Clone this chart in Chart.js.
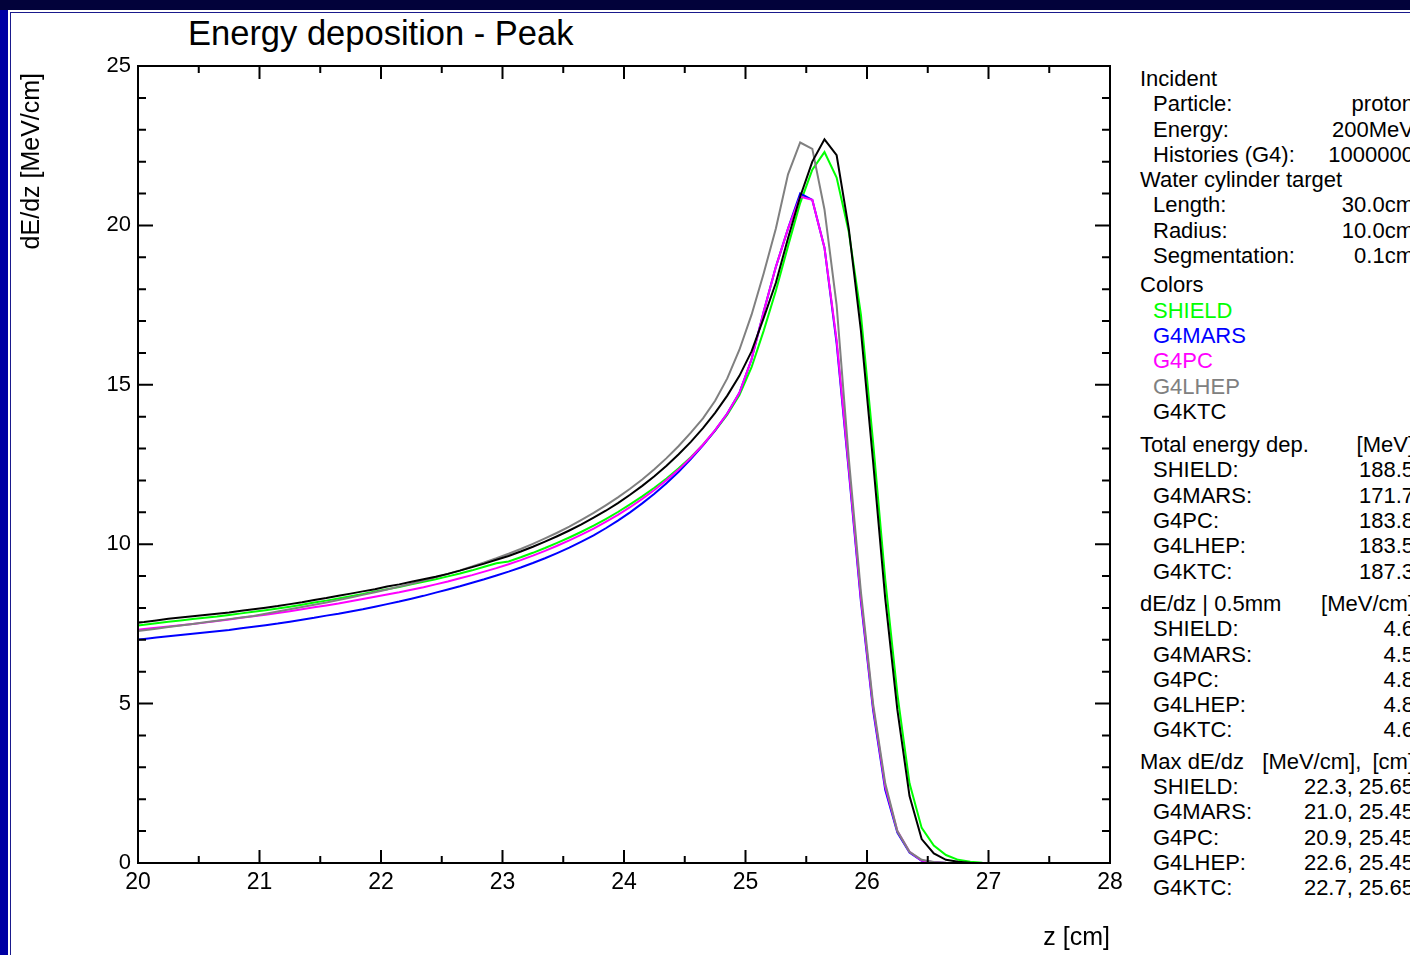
<!DOCTYPE html>
<html>
<head>
<meta charset="utf-8">
<script src="https://cdn.jsdelivr.net/npm/chart.js@4"></script>
<style>
  html, body { margin: 0; padding: 0; }
  body { width: 1410px; height: 955px; overflow: hidden; background: #02023a; position: relative;
         font-family: 'Liberation Sans', Arial, sans-serif; }
  #leftStrip { position: absolute; left: 0; top: 10px; width: 8px; height: 945px; background: #0000a4; }
  #outer { position: absolute; left: 8px; top: 10px; width: 1402px; height: 945px; background: #fff; }
  #inner { position: absolute; left: 10px; top: 12px; width: 1400px; height: 943px; background: #fff;
           border-left: 1px solid #1a1a8c; border-top: 1px solid #1a1a8c; box-sizing: border-box; }
  #wrap { position: absolute; left: 0; top: 0; width: 1130px; height: 955px; }
  #title { position: absolute; left: 188px; top: 14px; font-size: 34.5px; color: #000; white-space: nowrap; }
  #info { position: absolute; left: 1140px; top: 66px; width: 274px; font-size: 22px; color: #000; }
  #info .row { position: relative; height: 25.3px; line-height: 25.3px; white-space: pre; }
  #info .row .v { position: absolute; right: 0; top: 0; }
  #info .row.sub { padding-left: 13px; }
</style>
</head>
<body>
<div id="leftStrip"></div>
<div id="outer"></div>
<div id="inner"></div>
<div id="title">Energy deposition - Peak</div>
<div id="wrap"><canvas id="chartPeak"></canvas></div>
<div id="info"></div>
<script>
// bin centres along z [cm]
const zBins = [
  19.95,
  20.05, 20.15, 20.25, 20.35, 20.45, 20.55, 20.65, 20.75, 20.85, 20.95,
  21.05, 21.15, 21.25, 21.35, 21.45, 21.55, 21.65, 21.75, 21.85, 21.95,
  22.05, 22.15, 22.25, 22.35, 22.45, 22.55, 22.65, 22.75, 22.85, 22.95,
  23.05, 23.15, 23.25, 23.35, 23.45, 23.55, 23.65, 23.75, 23.85, 23.95,
  24.05, 24.15, 24.25, 24.35, 24.45, 24.55, 24.65, 24.75, 24.85, 24.95,
  25.05, 25.15, 25.25, 25.35, 25.45, 25.55, 25.65, 25.75, 25.85, 25.95,
  26.05, 26.15, 26.25, 26.35, 26.45, 26.55, 26.65, 26.75, 26.85, 26.95,
  27.05, 27.15, 27.25, 27.35, 27.45, 27.55, 27.65, 27.75, 27.85, 27.95
];

// dE/dz [MeV/cm]
const shield = [
  7.43,
  7.47, 7.52, 7.57, 7.61, 7.65, 7.69, 7.73, 7.78, 7.83, 7.88,
  7.93, 7.98, 8.04, 8.10, 8.17, 8.23, 8.30, 8.37, 8.44, 8.52,
  8.59, 8.66, 8.74, 8.82, 8.90, 8.99, 9.08, 9.18, 9.29, 9.40,
  9.46, 9.59, 9.73, 9.88, 10.04, 10.21, 10.39, 10.58, 10.79, 11.01,
  11.25, 11.50, 11.77, 12.06, 12.38, 12.73, 13.12, 13.56, 14.06, 14.68,
  15.55, 16.70, 17.95, 19.35, 20.70, 21.75, 22.30, 21.50, 19.80, 17.20,
  13.20, 8.90, 5.30, 2.50, 1.10, 0.55, 0.25, 0.10, 0.04, 0.01,
  0, 0, 0, 0, 0, 0, 0, 0, 0, 0
];
const g4mars = [
  6.99,
  7.03, 7.07, 7.11, 7.15, 7.19, 7.23, 7.27, 7.31, 7.36, 7.41,
  7.46, 7.51, 7.57, 7.63, 7.69, 7.76, 7.82, 7.89, 7.96, 8.04,
  8.12, 8.20, 8.29, 8.38, 8.48, 8.58, 8.68, 8.79, 8.90, 9.02,
  9.14, 9.27, 9.41, 9.56, 9.72, 9.89, 10.08, 10.28, 10.50, 10.74,
  11.00, 11.28, 11.58, 11.91, 12.27, 12.67, 13.10, 13.57, 14.10, 14.75,
  15.80, 17.30, 18.70, 19.90, 21.00, 20.80, 19.30, 16.30, 12.30, 8.20,
  4.80, 2.30, 0.95, 0.33, 0.07, 0.02, 0, 0, 0, 0,
  0, 0, 0, 0, 0, 0, 0, 0, 0, 0
];
const g4pc = [
  7.30,
  7.34, 7.38, 7.42, 7.46, 7.50, 7.54, 7.59, 7.64, 7.69, 7.74,
  7.79, 7.84, 7.90, 7.96, 8.02, 8.08, 8.14, 8.21, 8.28, 8.35,
  8.42, 8.49, 8.57, 8.65, 8.74, 8.83, 8.93, 9.03, 9.14, 9.25,
  9.37, 9.50, 9.64, 9.79, 9.95, 10.12, 10.30, 10.49, 10.70, 10.92,
  11.16, 11.42, 11.70, 12.01, 12.34, 12.71, 13.12, 13.58, 14.10, 14.75,
  15.80, 17.30, 18.70, 19.90, 20.90, 20.80, 19.30, 16.40, 12.40, 8.30,
  4.90, 2.40, 1.00, 0.35, 0.08, 0.02, 0, 0, 0, 0,
  0, 0, 0, 0, 0, 0, 0, 0, 0, 0
];
const g4lhep = [
  7.25,
  7.30, 7.35, 7.40, 7.45, 7.50, 7.55, 7.60, 7.65, 7.70, 7.75,
  7.82, 7.89, 7.96, 8.03, 8.10, 8.17, 8.25, 8.33, 8.41, 8.49,
  8.58, 8.67, 8.76, 8.86, 8.96, 9.07, 9.18, 9.30, 9.43, 9.56,
  9.70, 9.85, 10.01, 10.18, 10.36, 10.55, 10.76, 10.98, 11.22, 11.47,
  11.74, 12.03, 12.35, 12.70, 13.08, 13.50, 13.95, 14.50, 15.20, 16.10,
  17.20, 18.50, 19.90, 21.60, 22.60, 22.40, 20.50, 17.50, 12.70, 8.50,
  5.00, 2.50, 1.00, 0.35, 0.10, 0.03, 0.01, 0, 0, 0,
  0, 0, 0, 0, 0, 0, 0, 0, 0, 0
];
const g4ktc = [
  7.52,
  7.56, 7.61, 7.66, 7.70, 7.74, 7.78, 7.82, 7.86, 7.91, 7.96,
  8.01, 8.06, 8.12, 8.18, 8.25, 8.31, 8.38, 8.45, 8.52, 8.59,
  8.67, 8.74, 8.82, 8.90, 8.98, 9.07, 9.17, 9.28, 9.39, 9.51,
  9.63, 9.77, 9.92, 10.08, 10.25, 10.43, 10.62, 10.83, 11.05, 11.29,
  11.55, 11.83, 12.13, 12.46, 12.82, 13.21, 13.64, 14.12, 14.66, 15.28,
  16.05, 17.10, 18.20, 19.60, 20.90, 22.00, 22.70, 22.20, 19.90, 16.70,
  12.60, 8.30, 4.80, 2.10, 0.75, 0.30, 0.10, 0.04, 0.01, 0,
  0, 0, 0, 0, 0, 0, 0, 0, 0, 0
];

const seriesNames = ['SHIELD', 'G4MARS', 'G4PC', 'G4LHEP', 'G4KTC'];
const seriesColors = ['#00ff00', '#0000ff', '#ff00ff', '#808080', '#000000'];
const seriesData = [shield, g4mars, g4pc, g4lhep, g4ktc];

// numbers in the side panel
const totalDep = ['188.5', '171.7', '183.8', '183.5', '187.3'];
const dedzHalfMm = ['4.6', '4.5', '4.8', '4.8', '4.6'];
const maxDedz = ['22.3', '21.0', '20.9', '22.6', '22.7'];
const maxZ = ['25.65', '25.45', '25.45', '25.45', '25.65'];

const xTicks = [20, 21, 22, 23, 24, 25, 26, 27, 28];
const yTicks = [0, 5, 10, 15, 20, 25];

Chart.defaults.font.family = "'Liberation Sans', Arial, sans-serif";
Chart.defaults.color = '#000';

// axis box with ticks pointing inwards on all four sides
const frameTicks = {
  id: 'frameTicks',
  afterDatasetsDraw(chart) {
    const { ctx, chartArea: a, scales: { x, y } } = chart;
    ctx.save();
    ctx.strokeStyle = '#000';
    ctx.lineWidth = 2;
    ctx.strokeRect(a.left, a.top, a.right - a.left, a.bottom - a.top);
    ctx.beginPath();
    for (let v = 20; v <= 28; v += 0.5) {
      const px = x.getPixelForValue(v);
      const len = Number.isInteger(v) ? 13 : 7;
      ctx.moveTo(px, a.bottom); ctx.lineTo(px, a.bottom - len);
      ctx.moveTo(px, a.top); ctx.lineTo(px, a.top + len);
    }
    for (let v = 0; v <= 25; v++) {
      const py = y.getPixelForValue(v);
      const len = v % 5 === 0 ? 15 : 8;
      ctx.moveTo(a.left, py); ctx.lineTo(a.left + len, py);
      ctx.moveTo(a.right, py); ctx.lineTo(a.right - len, py);
    }
    ctx.stroke();
    ctx.restore();
  }
};

const chart = document.getElementById('chartPeak');

new Chart(chart, {
  type: 'line',
  data: {
    datasets: seriesNames.map((name, i) => ({
      label: name,
      data: zBins.map((z, k) => ({ x: z, y: seriesData[i][k] })),
      borderColor: seriesColors[i],
      backgroundColor: seriesColors[i],
      borderWidth: 2,
      pointRadius: 0,
      tension: 0,
      order: 4 - i
    }))
  },
  options: {
    responsive: true,
    maintainAspectRatio: false,
    animation: false,
    layout: { padding: { top: 66, right: 20, bottom: 0, left: 0 } },
    plugins: {
      legend: { display: false },
      tooltip: { enabled: false },
      title: { display: false }
    },
    scales: {
      x: {
        type: 'linear',
        min: 20,
        max: 28,
        afterFit: s => { s.height = 92; },
        afterBuildTicks: s => { s.ticks = xTicks.map(v => ({ value: v })); },
        grid: { display: false, drawTicks: false },
        border: { display: false },
        ticks: { font: { size: 23 }, padding: 6, maxRotation: 0 },
        title: { display: true, text: 'z [cm]', align: 'end', font: { size: 25 }, padding: { top: 0, bottom: 2 } }
      },
      y: {
        min: 0,
        max: 25,
        afterFit: s => { s.width = 138; },
        afterBuildTicks: s => { s.ticks = yTicks.map(v => ({ value: v })); },
        grid: { display: false, drawTicks: false },
        border: { display: false },
        ticks: { font: { size: 22 }, padding: 7 },
        title: { display: true, text: 'dE/dz [MeV/cm] ', align: 'end', font: { size: 25 }, padding: { top: 17, bottom: 0 } }
      }
    }
  },
  plugins: [frameTicks]
});

// side panel text
const rows = [
  { t: 'Incident' },
  { t: 'Particle:', v: 'proton', sub: true },
  { t: 'Energy:', v: '200MeV', sub: true },
  { t: 'Histories (G4):', v: '1000000', sub: true },
  { t: 'Water cylinder target' },
  { t: 'Length:', v: '30.0cm', sub: true },
  { t: 'Radius:', v: '10.0cm', sub: true },
  { t: 'Segmentation:', v: '0.1cm', sub: true },
  { t: 'Colors', gap: 4 }
];
seriesNames.forEach((n, i) => rows.push({ t: n, c: seriesColors[i], sub: true }));
rows.push({ t: 'Total energy dep.', v: '[MeV]', gap: 8 });
seriesNames.forEach((n, i) => rows.push({ t: n + ':', v: totalDep[i], sub: true }));
rows.push({ t: 'dE/dz | 0.5mm', v: '[MeV/cm]', gap: 7 });
seriesNames.forEach((n, i) => rows.push({ t: n + ':', v: dedzHalfMm[i], sub: true }));
rows.push({ t: 'Max dE/dz   [MeV/cm],', v: '[cm]', gap: 6 });
seriesNames.forEach((n, i) => rows.push({ t: n + ':', v: maxDedz[i] + ', ' + maxZ[i], sub: true }));

const info = document.getElementById('info');
rows.forEach(r => {
  const d = document.createElement('div');
  d.className = 'row' + (r.sub ? ' sub' : '');
  if (r.gap) d.style.marginTop = r.gap + 'px';
  const s = document.createElement('span');
  s.textContent = r.t;
  if (r.c) s.style.color = r.c;
  d.appendChild(s);
  if (r.v) {
    const v = document.createElement('span');
    v.className = 'v';
    v.textContent = r.v;
    d.appendChild(v);
  }
  info.appendChild(d);
});
</script>
</body>
</html>
